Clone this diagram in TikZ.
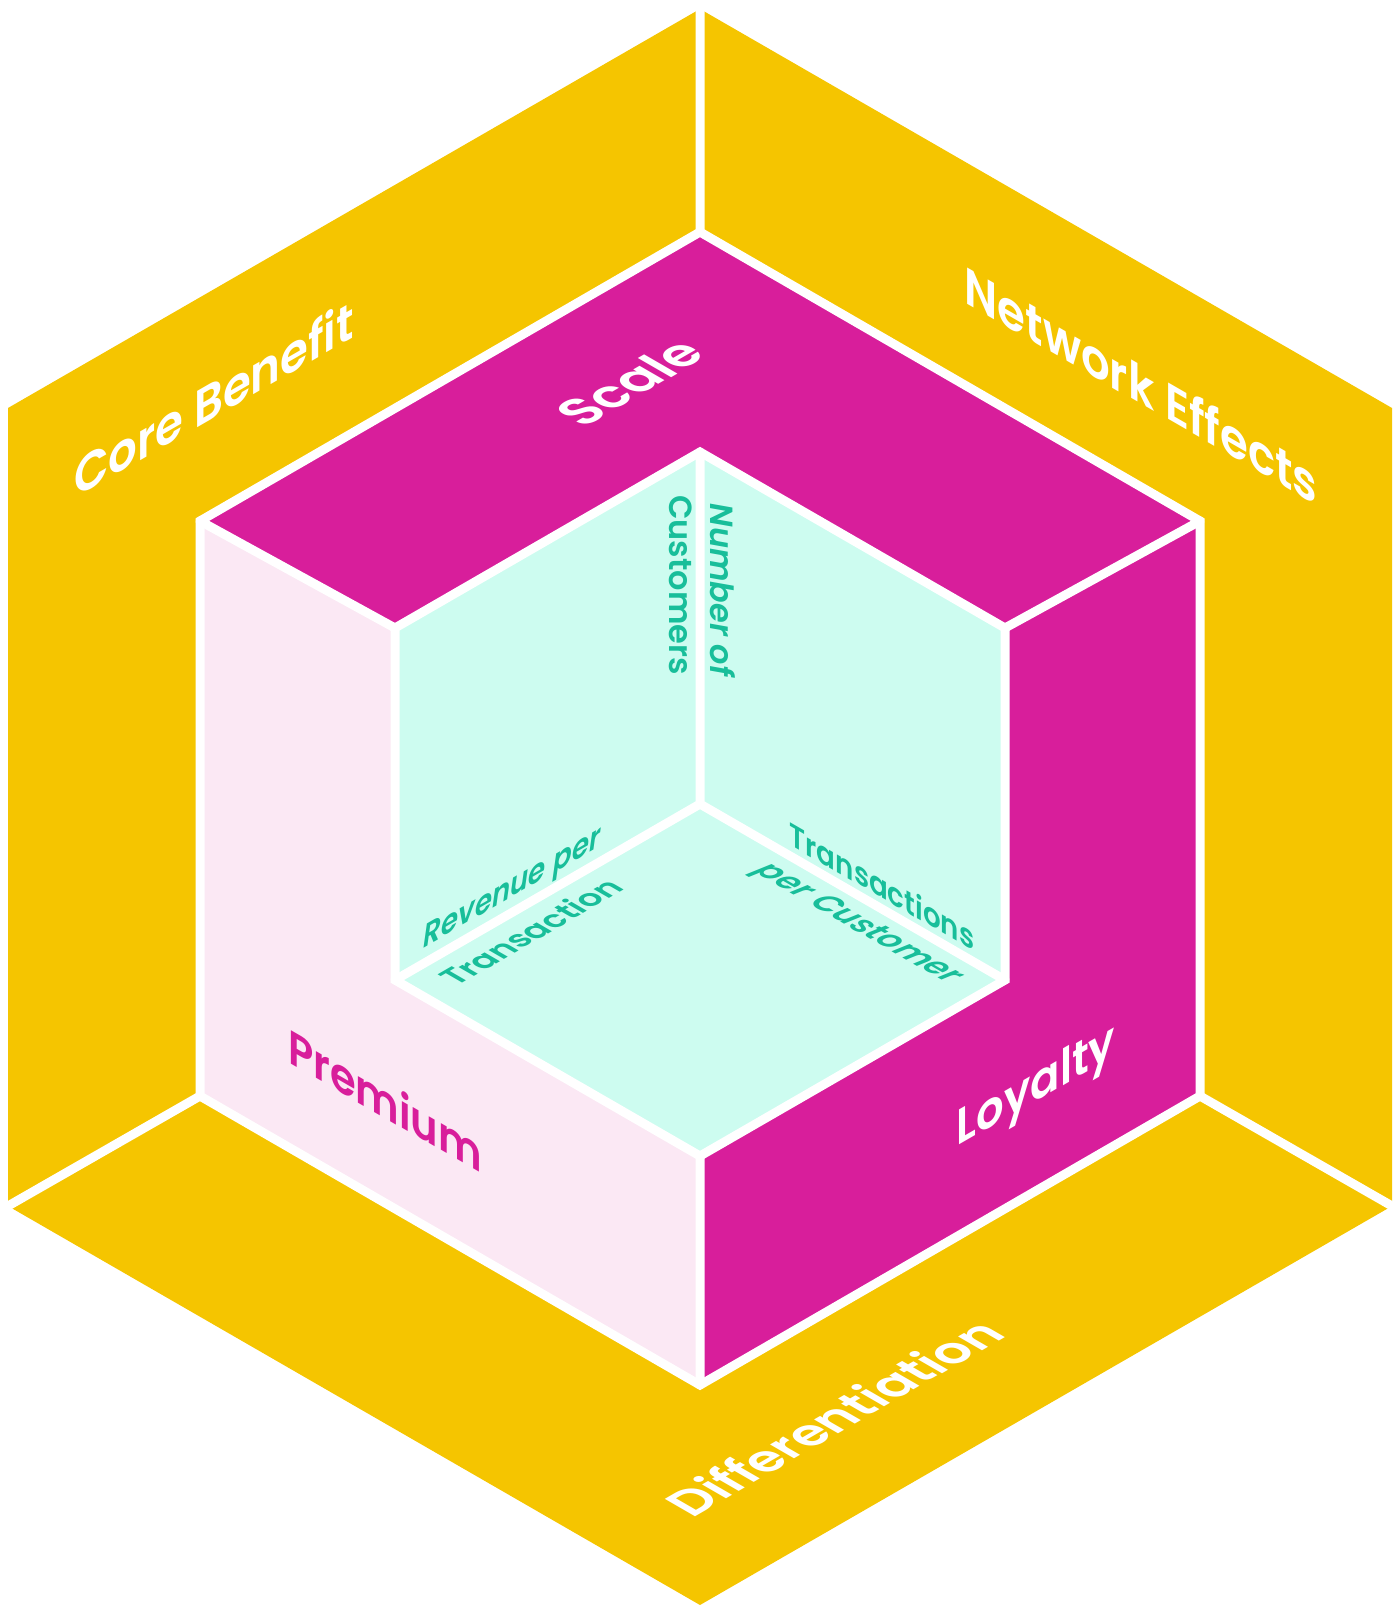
\documentclass[tikz,border=0pt]{standalone}
\usepackage{fontspec}
\setmainfont{Poppins}[BoldFont={Poppins SemiBold}, BoldItalicFont={Poppins SemiBold Italic}]
\definecolor{moatyellow}{HTML}{F5C500}
\definecolor{moatmagenta}{HTML}{D81E9B}
\definecolor{moatpink}{HTML}{FBE8F4}
\definecolor{moatmint}{HTML}{CDFCF0}
\definecolor{moatteal}{HTML}{18BE9A}
\tikzset{
  gap/.style={white, line width=9pt, line join=miter},
  lwall/.style={cm={0.866,0.5,0,1,(0,0)}},
  rwall/.style={cm={0.866,-0.5,0,1,(0,0)}},
  flup/.style={cm={0.866,0.5,-0.866,0.5,(0,0)}},
  fldown/.style={cm={0.866,-0.5,0.866,0.5,(0,0)}},
  biglabel/.style={inner sep=0pt, anchor=base, white, font=\fontsize{52}{52}\selectfont\bfseries},
  smalllabel/.style={inner sep=0pt, anchor=base, moatteal, font=\fontsize{32}{32}\selectfont\bfseries},
  smallit/.style={smalllabel, font=\fontsize{32}{32}\selectfont\bfseries\itshape},
}
\begin{document}
\begin{tikzpicture}[x=1pt, y=-1pt]
    \useasboundingbox (0,0) rectangle (1400,1615);

    %outer hexagon
    \coordinate (ot) at (700,9);
    \coordinate (our) at (1392,408);
    \coordinate (olr) at (1392,1206);
    \coordinate (ob) at (700,1605);
    \coordinate (oll) at (8,1206);
    \coordinate (oul) at (8,408);
    %middle hexagon
    \coordinate (mt) at (700,232);
    \coordinate (mur) at (1200,521);
    \coordinate (mlr) at (1200,1096);
    \coordinate (mb) at (700,1385);
    \coordinate (mll) at (200,1096);
    \coordinate (mul) at (200,521);
    %inner hexagon
    \coordinate (it) at (700,452);
    \coordinate (iur) at (1005,628);
    \coordinate (ilr) at (1005,980);
    \coordinate (ib) at (700,1156);
    \coordinate (ill) at (395,980);
    \coordinate (iul) at (395,628);
    \coordinate (ic) at (700,804);

    \fill[moatyellow] (ot) -- (our) -- (olr) -- (ob) -- (oll) -- (oul) -- cycle;
    %Scale, Premium, Loyalty
    \fill[moatmagenta] (mul) -- (mt) -- (mur) -- (iur) -- (it) -- (iul) -- cycle;
    \fill[moatpink] (mul) -- (iul) -- (ill) -- (ib) -- (mb) -- (mll) -- cycle;
    \fill[moatmagenta] (mur) -- (mlr) -- (mb) -- (ib) -- (ilr) -- (iur) -- cycle;
    %inner box
    \fill[moatmint] (it) -- (iur) -- (ilr) -- (ib) -- (ill) -- (iul) -- cycle;

    %white gaps
    \draw[gap] (mt) -- (mur) -- (mlr) -- (mb) -- (mll) -- (mul) -- cycle;
    \draw[gap] (it) -- (iur) -- (ilr) -- (ib) -- (ill) -- (iul) -- cycle;
    \draw[gap, line cap=round] (ot) -- (mt) (oll) -- (mll) (olr) -- (mlr);
    \draw[gap, line cap=round] (mul) -- (iul) (mur) -- (iur) (ib) -- (mb);
    \draw[gap, line cap=round] (it) -- (ic) -- (ill) (ic) -- (ilr);

    %labels
    \node[biglabel, lwall] (corebenefit) at (214,418) {Core Benefit};
    \node[biglabel, rwall] (network) at (1141,404) {Network Effects};
    \node[biglabel, flup, font=\fontsize{50}{50}\selectfont\bfseries] (differentiation) at (850,1427) {Differentiation};
    \node[biglabel, flup] (scale) at (646,392) {Scale};
    \node[biglabel, rwall, moatmagenta, font=\fontsize{48}{48}\selectfont\bfseries] (premium) at (385,1118) {Premium};
    \node[biglabel, lwall, font=\fontsize{50}{50}\selectfont\bfseries] (loyalty) at (1036,1101) {Loyalty};

    \node[smallit, lwall] (revenue) at (512,897) {Revenue per};
    \node[smalllabel, flup] (transaction) at (541,938) {Transaction};
    \node[smalllabel, rwall] (transactions) at (882,898) {Transactions};
    \node[smallit, fldown] (percustomer) at (851,928) {per Customer};
    \node[smallit, rotate=-90] (numberof) at (710,590) {Number of};
    \node[smalllabel, rotate=-90] (customers) at (669,585) {Customers};
\end{tikzpicture}
\end{document}
